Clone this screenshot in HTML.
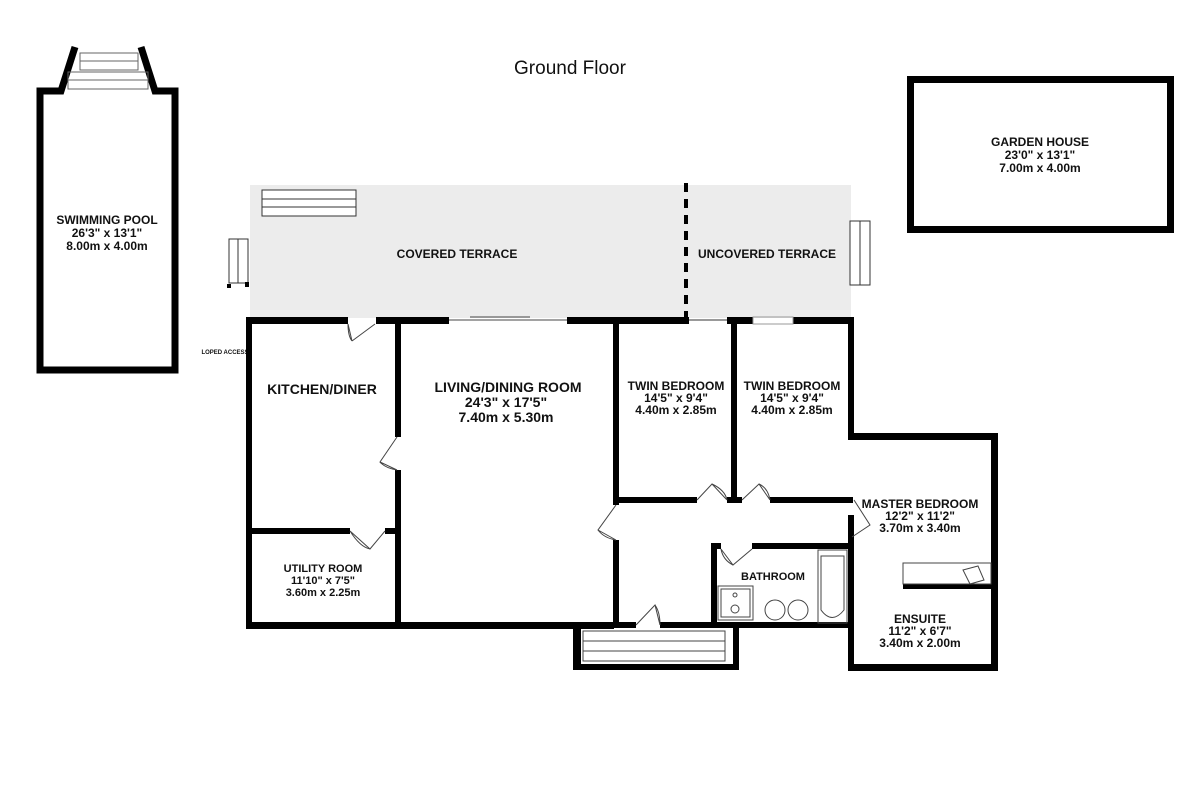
<!DOCTYPE html>
<html><head><meta charset="utf-8"><style>
html,body{margin:0;padding:0;background:#fff;width:1200px;height:800px;overflow:hidden}
svg text{font-family:"Liberation Sans",Arial,sans-serif;font-weight:bold;fill:#111;text-anchor:middle}
</style></head><body>
<svg width="1200" height="800" viewBox="0 0 1200 800" xmlns="http://www.w3.org/2000/svg">
<text x="570" y="74" style="font-weight:normal;font-size:19px">Ground Floor</text>

<!-- Swimming pool -->
<g fill="none" stroke="#000">
<path d="M75,47 L61,91 L40,91 L40,370 L175,370 L175,91 L155,91 L141,47" stroke-width="7"/>
<rect x="80" y="53" width="58" height="17" stroke-width="1" stroke="#666"/>
<line x1="80" y1="61" x2="138" y2="61" stroke-width="1" stroke="#666"/>
<rect x="68" y="72" width="80" height="17" stroke-width="1" stroke="#666"/>
<line x1="68" y1="80" x2="148" y2="80" stroke-width="1" stroke="#666"/>
</g>
<text x="107" y="224" font-size="12">SWIMMING POOL</text>
<text x="107" y="237" font-size="12">26'3"  x 13'1"</text>
<text x="107" y="250" font-size="12">8.00m  x 4.00m</text>

<!-- Garden house -->
<rect x="910.5" y="79.5" width="260" height="150" fill="none" stroke="#000" stroke-width="7"/>
<text x="1040" y="146" font-size="12">GARDEN HOUSE</text>
<text x="1040" y="159" font-size="12">23'0"  x 13'1"</text>
<text x="1040" y="172" font-size="12">7.00m  x 4.00m</text>

<!-- Terraces -->
<rect x="250" y="185" width="601" height="133" fill="#ececec"/>
<line x1="686" y1="183" x2="686" y2="318" stroke="#000" stroke-width="4" stroke-dasharray="9,7"/>
<g fill="#fff" stroke="#333" stroke-width="1">
<rect x="262" y="190" width="94" height="26"/>
<line x1="262" y1="199" x2="356" y2="199"/><line x1="262" y1="207" x2="356" y2="207"/>
<rect x="229" y="239" width="19" height="44"/><line x1="238" y1="239" x2="238" y2="283"/>
<rect x="850" y="221" width="20" height="64"/><line x1="860" y1="221" x2="860" y2="285"/>
</g>
<rect x="227" y="284" width="4" height="4" fill="#000"/><rect x="245" y="282" width="4" height="5" fill="#000"/>
<text x="457" y="258" font-size="12" style="font-weight:bold">COVERED TERRACE</text>
<text x="767" y="258" font-size="12">UNCOVERED TERRACE</text>
<text x="225" y="354" font-size="6">LOPED ACCESS</text>

<!-- Main house walls -->
<g fill="#000">
<!-- top -->
<rect x="246" y="317" width="102" height="7"/>
<rect x="376" y="317" width="73" height="7"/>
<rect x="567" y="317" width="122" height="7"/>
<rect x="727" y="317" width="26" height="7"/>
<rect x="793" y="317" width="61" height="7"/>
<!-- left -->
<rect x="246" y="317" width="6" height="312"/>
<!-- kitchen/living -->
<rect x="395" y="320" width="6" height="117"/>
<rect x="395" y="470" width="6" height="157"/>
<!-- kitchen/utility -->
<rect x="250" y="528" width="100" height="6"/>
<rect x="385" y="528" width="12" height="6"/>
<!-- bottom -->
<rect x="246" y="622" width="368" height="7"/>
<!-- living right -->
<rect x="613" y="320" width="6" height="185"/>
<rect x="613" y="540" width="6" height="87"/>
<!-- twin bottom -->
<rect x="613" y="497" width="84" height="6"/>
<rect x="727" y="497" width="15" height="6"/>
<rect x="770" y="497" width="83" height="6"/>
<!-- twin divider -->
<rect x="731" y="320" width="6" height="180"/>
<!-- right -->
<rect x="848" y="317" width="6" height="120"/>
<rect x="848" y="433" width="149" height="7"/>
<rect x="991" y="433" width="7" height="237"/>
<rect x="848" y="515" width="6" height="155"/>
<rect x="848" y="664" width="150" height="7"/>
<!-- bathroom -->
<rect x="711" y="543" width="10" height="6"/>
<rect x="752" y="543" width="100" height="6"/>
<rect x="711" y="543" width="6" height="84"/>
<rect x="614" y="622" width="22" height="6"/>
<rect x="660" y="622" width="192" height="6"/>
<!-- stair box -->
<rect x="573" y="622" width="8" height="48"/>
<rect x="573" y="664" width="166" height="6"/>
<rect x="733" y="625" width="6" height="45"/>
<!-- ensuite -->
<rect x="903" y="584" width="92" height="5"/>
</g>
<g fill="none" stroke="#444" stroke-width="1">
<line x1="449" y1="320" x2="567" y2="320"/><line x1="470" y1="317" x2="530" y2="317"/>
<line x1="689" y1="320" x2="727" y2="320" stroke="#999" stroke-width="2"/>
<rect x="753" y="317" width="40" height="7" stroke="#999"/>
<!-- doors -->
<path d="M348,324 L352,341 M352,341 L375,324 M348,324 Q348,336 352,341"/>
<path d="M397,437 L380,462 L397,470 M380,462 Q385,468 397,470"/>
<path d="M350,531 L370,549 L385,531 M350,531 Q360,547 370,549"/>
<path d="M697,500 L712,484 L727,500 M712,484 Q725,490 727,500"/>
<path d="M742,500 L759,484 L770,500 M759,484 Q768,488 770,500"/>
<path d="M616,505 L598,530 L616,540 M598,530 Q604,538 616,540"/>
<path d="M854,500 L870,525 L852,537"/>
<path d="M721,549 L733,565 L752,549 M721,549 Q723,560 733,565"/>
<path d="M636,625 L655,605 L660,625 M655,605 Q660,612 660,625"/>
<!-- stairs -->
<rect x="583" y="631" width="142" height="30"/>
<line x1="583" y1="641" x2="725" y2="641"/><line x1="583" y1="651" x2="725" y2="651"/>
<!-- bathroom fixtures -->
<rect x="718" y="586" width="35" height="34"/><rect x="721" y="589" width="29" height="28"/>
<circle cx="735" cy="595" r="2"/><circle cx="735" cy="609" r="4"/>
<circle cx="775" cy="610" r="10"/><circle cx="798" cy="610" r="10"/>
<rect x="818" y="550" width="29" height="73"/>
<path d="M821,556 L844,556 L844,610 Q832,625 821,610 Z"/>
<rect x="903" y="563" width="88" height="21"/>
<path d="M963,570 L978,566 L984,580 L970,584 Z"/>
</g>

<text x="322" y="394" font-size="14">KITCHEN/DINER</text>
<text x="508" y="392" font-size="14">LIVING/DINING ROOM</text>
<text x="506" y="407" font-size="14">24'3"  x 17'5"</text>
<text x="506" y="422" font-size="14">7.40m  x 5.30m</text>
<text x="676" y="390" font-size="12">TWIN BEDROOM</text>
<text x="676" y="402" font-size="12">14'5"  x 9'4"</text>
<text x="676" y="414" font-size="12">4.40m  x 2.85m</text>
<text x="792" y="390" font-size="12">TWIN BEDROOM</text>
<text x="792" y="402" font-size="12">14'5"  x 9'4"</text>
<text x="792" y="414" font-size="12">4.40m  x 2.85m</text>
<text x="323" y="572" font-size="11">UTILITY ROOM</text>
<text x="323" y="584" font-size="11">11'10"  x 7'5"</text>
<text x="323" y="596" font-size="11">3.60m  x 2.25m</text>
<text x="920" y="508" font-size="12">MASTER BEDROOM</text>
<text x="920" y="520" font-size="12">12'2"  x 11'2"</text>
<text x="920" y="532" font-size="12">3.70m  x 3.40m</text>
<text x="773" y="580" font-size="11">BATHROOM</text>
<text x="920" y="623" font-size="12">ENSUITE</text>
<text x="920" y="635" font-size="12">11'2"  x 6'7"</text>
<text x="920" y="647" font-size="12">3.40m  x 2.00m</text>
</svg>
</body></html>
